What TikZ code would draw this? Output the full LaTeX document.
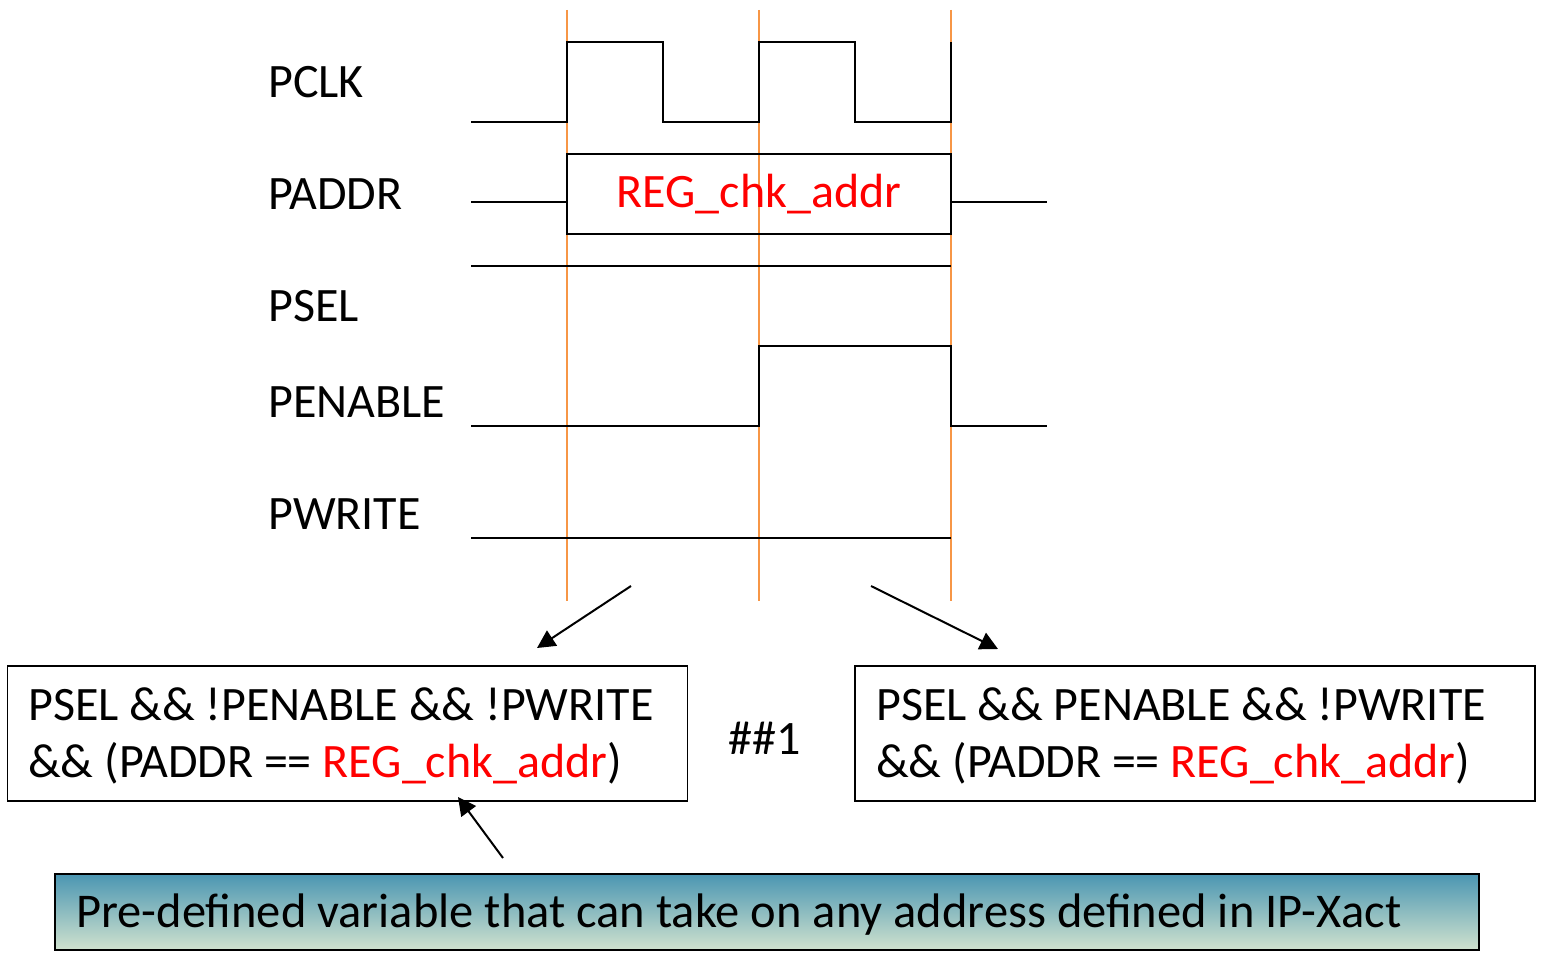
\documentclass[tikz,border=0pt]{standalone}
\usepackage{fontspec}
\setmainfont{Carlito}
\usetikzlibrary{arrows.meta}
\definecolor{edge}{RGB}{247,150,70}
\definecolor{gradtop}{RGB}{75,150,178}
\definecolor{gradbot}{RGB}{208,226,206}
\begin{document}
\begin{tikzpicture}[x=1pt,y=-1pt,
  wave/.style={line width=1.4pt, line join=miter},
  clockedge/.style={edge, line width=1.3pt},
  lbl/.style={anchor=west, font=\fontsize{48}{57}\selectfont, inner sep=0pt},
  condbox/.style={draw, line width=1.5pt, minimum width=680pt, minimum height=135pt, inner sep=0pt},
  condtxt/.style={anchor=west, align=left, font=\fontsize{48}{57}\selectfont, inner sep=0pt},
  ptr/.style={line width=2pt, -{Triangle[length=18pt,width=18pt]}}
]
\useasboundingbox (0,0) rectangle (1546,958);

% clock edges
\foreach \x in {567,759,951}
  \draw[clockedge] (\x,10) -- (\x,601);

% signal names
\node[lbl] (nclk) at (268,82) {PCLK};
\node[lbl] (naddr) at (268,194) {PADDR};
\node[lbl] (nsel) at (268,306) {PSEL};
\node[lbl] (nen) at (268,402) {PENABLE};
\node[lbl] (nwr) at (268,514) {PWRITE};

% PCLK
\draw[wave] (471,122) -- (567,122) -- (567,42) -- (663,42) -- (663,122)
  -- (759,122) -- (759,42) -- (855,42) -- (855,122) -- (951,122) -- (951,42);

% PADDR
\draw[wave] (471,202) -- (567,202);
\node[draw, line width=1.4pt, minimum width=384pt, minimum height=80pt, inner sep=0pt,
      font=\fontsize{48}{57}\selectfont, text=red] (addr) at (759,194) {REG\_chk\_addr};
\draw[wave] (951,202) -- (1047,202);

% PSEL
\draw[wave] (471,266) -- (951,266);

% PENABLE
\draw[wave] (471,426) -- (759,426) -- (759,346) -- (951,346) -- (951,426) -- (1047,426);

% PWRITE
\draw[wave] (471,538) -- (951,538);

% sampled conditions
\node[condbox] (setup) at (347.5,733.5) {};
\node[condtxt] (setuptxt) at (28,736)
  {PSEL \&\& !PENABLE \&\& !PWRITE\\\&\& (PADDR == \textcolor{red}{REG\_chk\_addr})};
\node[condbox] (access) at (1195,733.5) {};
\node[condtxt] (accesstxt) at (876,736)
  {PSEL \&\& PENABLE \&\& !PWRITE\\\&\& (PADDR == \textcolor{red}{REG\_chk\_addr})};
\node[font=\fontsize{48}{57}\selectfont] (delay) at (765,738) {\#\#1};

\coordinate (a1) at (631,586);
\coordinate (a1e) at (537,648);
\coordinate (a2) at (871,586);
\coordinate (a2e) at (998,649);
\draw[ptr] (a1) -- (a1e);
\draw[ptr] (a2) -- (a2e);

% note
\node[draw, line width=1.5pt, top color=gradtop, bottom color=gradbot,
      minimum width=1424pt, minimum height=76pt, inner sep=0pt] (note) at (767,912) {};
\node[anchor=west, inner sep=0pt, font=\fontsize{48.5}{57}\selectfont] (notetxt) at (76,915)
  {Pre-defined variable that can take on any address defined in IP-Xact};
\coordinate (a3) at (503,858);
\draw[ptr] (a3) -- (458,797);
\end{tikzpicture}
\end{document}
